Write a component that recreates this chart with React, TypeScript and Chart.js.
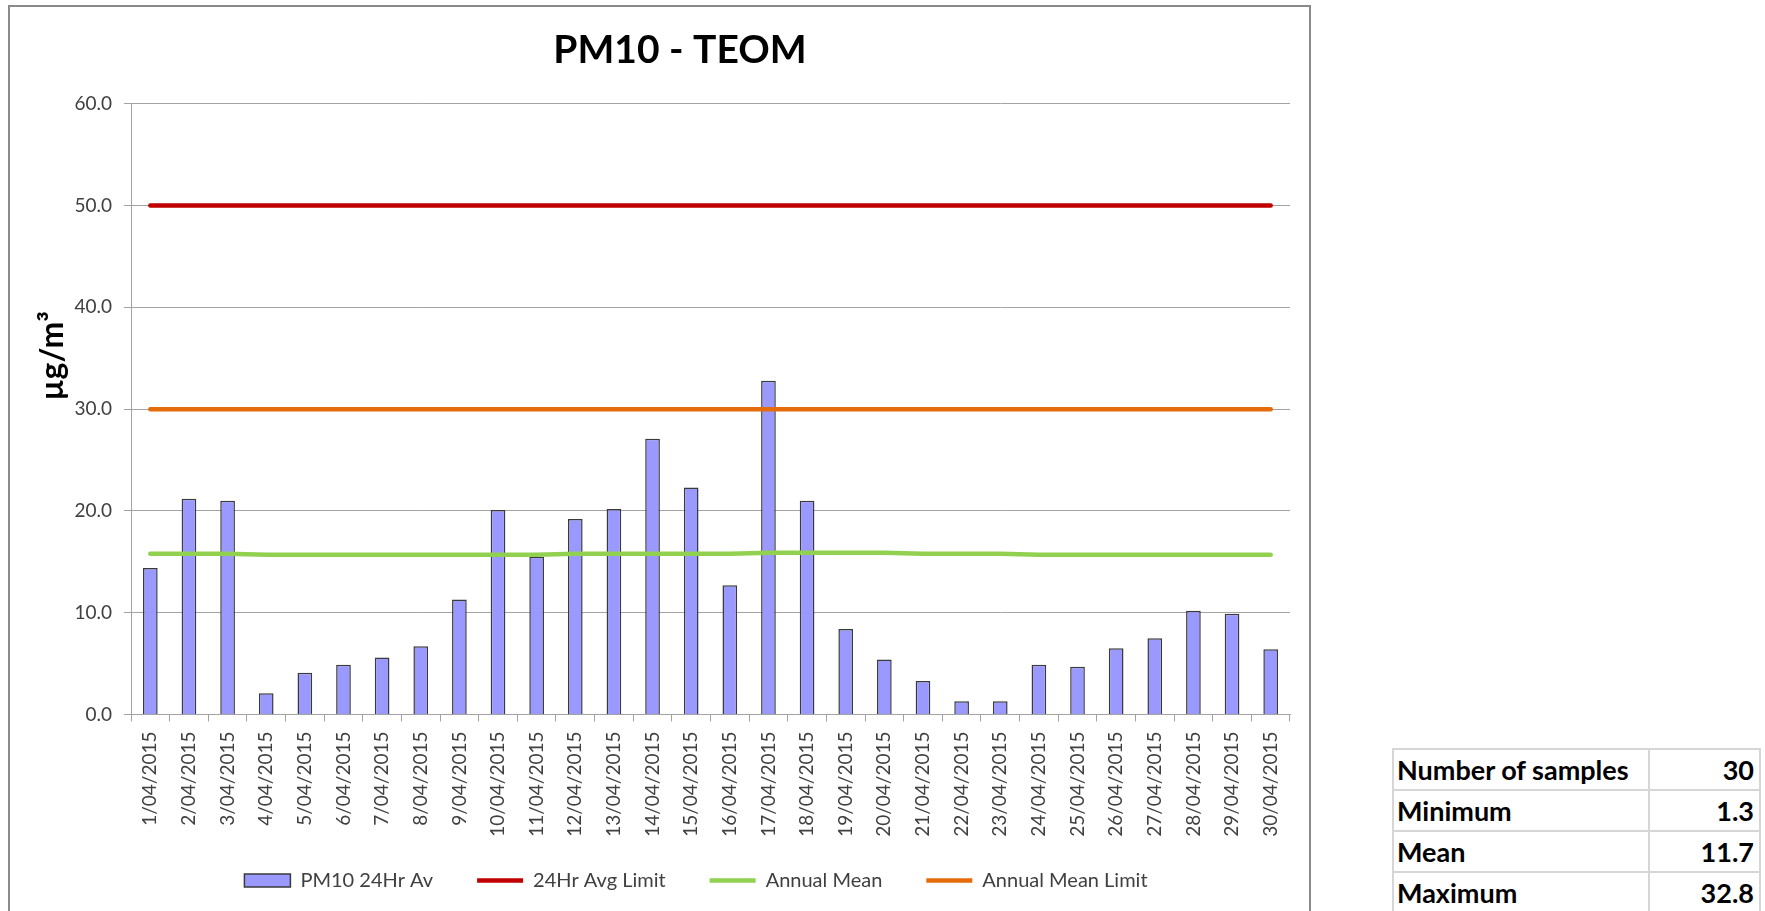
import React, { useEffect, useRef } from 'react';
import { Chart, registerables } from 'chart.js';

Chart.register(...registerables);

const FONT = 'Lato, "Open Sans", "DejaVu Sans", sans-serif';

const CHART_TITLE = 'PM10 - TEOM';
const Y_TITLE = 'µg/m³';

const DATES = [
  '1/04/2015', '2/04/2015', '3/04/2015', '4/04/2015', '5/04/2015', '6/04/2015',
  '7/04/2015', '8/04/2015', '9/04/2015', '10/04/2015', '11/04/2015', '12/04/2015',
  '13/04/2015', '14/04/2015', '15/04/2015', '16/04/2015', '17/04/2015', '18/04/2015',
  '19/04/2015', '20/04/2015', '21/04/2015', '22/04/2015', '23/04/2015', '24/04/2015',
  '25/04/2015', '26/04/2015', '27/04/2015', '28/04/2015', '29/04/2015', '30/04/2015',
];

const SERIES_NAMES = ['PM10 24Hr Av', '24Hr Avg Limit', 'Annual Mean', 'Annual Mean Limit'];

const PM10_24HR_AV = [
  14.4, 21.2, 21.0, 2.1, 4.1, 4.9, 5.6, 6.7, 11.3, 20.1,
  15.5, 19.2, 20.2, 27.1, 22.3, 12.7, 32.8, 21.0, 8.4, 5.4,
  3.3, 1.3, 1.3, 4.9, 4.7, 6.5, 7.5, 10.2, 9.9, 6.4,
];

const LIMIT_24HR_AVG = [
  50, 50, 50, 50, 50, 50, 50, 50, 50, 50,
  50, 50, 50, 50, 50, 50, 50, 50, 50, 50,
  50, 50, 50, 50, 50, 50, 50, 50, 50, 50,
];

const ANNUAL_MEAN = [
  15.8, 15.8, 15.8, 15.7, 15.7, 15.7, 15.7, 15.7, 15.7, 15.7,
  15.7, 15.8, 15.8, 15.8, 15.8, 15.8, 15.9, 15.9, 15.9, 15.9,
  15.8, 15.8, 15.8, 15.7, 15.7, 15.7, 15.7, 15.7, 15.7, 15.7,
];

const ANNUAL_MEAN_LIMIT = [
  30, 30, 30, 30, 30, 30, 30, 30, 30, 30,
  30, 30, 30, 30, 30, 30, 30, 30, 30, 30,
  30, 30, 30, 30, 30, 30, 30, 30, 30, 30,
];

const Y_MIN = 0;
const Y_MAX = 60;
const Y_STEP = 10;

const STAT_LABELS = ['Number of samples', 'Minimum', 'Mean', 'Maximum'];
const STAT_VALUES = ['30', '1.3', '11.7', '32.8'];

const GRID = '#a3a3a3';
const TEXT = '#404040';

const yTitlePlugin = {
  id: 'yTitleCustom',
  afterDraw(chart: any) {
    const { ctx, chartArea } = chart;
    ctx.save();
    ctx.translate(chartArea.left - 68, chartArea.top + 252);
    ctx.rotate(-Math.PI / 2);
    ctx.font = `bold 32px ${FONT}`;
    ctx.fillStyle = '#000';
    ctx.textAlign = 'center';
    ctx.textBaseline = 'alphabetic';
    ctx.fillText(Y_TITLE, 0, 0);
    ctx.restore();
  },
};

const legendShiftPlugin = {
  id: 'legendShift',
  afterLayout(chart: any) {
    const lg = chart.legend;
    if (!lg) return;
    lg.top -= 13;
    lg.bottom = chart.height;
    lg.left += 16;
    lg.right += 16;
  },
};

export default function App() {
  const ref = useRef<HTMLCanvasElement>(null);

  useEffect(() => {
    if (!ref.current) return;
    const chart = new Chart(ref.current, {
      type: 'bar',
      data: {
        labels: DATES,
        datasets: [
          {
            type: 'bar',
            label: SERIES_NAMES[0],
            data: PM10_24HR_AV,
            backgroundColor: '#9999FF',
            borderColor: '#3a3a3a',
            borderWidth: 1.5,
            barPercentage: 0.38,
            categoryPercentage: 1,
            order: 1,
          },
          {
            type: 'line',
            label: SERIES_NAMES[1],
            data: LIMIT_24HR_AVG,
            borderColor: '#C00000',
            backgroundColor: '#C00000',
            borderWidth: 4.5,
            pointRadius: 0,
            borderCapStyle: 'round',
            tension: 0,
            order: 0,
          },
          {
            type: 'line',
            label: SERIES_NAMES[2],
            data: ANNUAL_MEAN,
            borderColor: '#92D050',
            backgroundColor: '#92D050',
            borderWidth: 4.5,
            pointRadius: 0,
            borderCapStyle: 'round',
            tension: 0,
            order: 0,
          },
          {
            type: 'line',
            label: SERIES_NAMES[3],
            data: ANNUAL_MEAN_LIMIT,
            borderColor: '#E46C0A',
            backgroundColor: '#E46C0A',
            borderWidth: 4.5,
            pointRadius: 0,
            borderCapStyle: 'round',
            tension: 0,
            order: 0,
          },
        ],
      },
      options: {
        responsive: false,
        maintainAspectRatio: false,
        animation: false,
        layout: { padding: { left: 60, right: 19, top: 0, bottom: 11.5 } },
        plugins: {
          title: {
            display: true,
            text: CHART_TITLE,
            color: '#000',
            font: { family: FONT, size: 39, weight: 'bold' },
            padding: { top: 20, bottom: 30 },
          },
          legend: {
            position: 'bottom',
            maxHeight: 60,
            labels: {
              font: { family: FONT, size: 20 },
              color: TEXT,
              usePointStyle: true,
              pointStyleWidth: 46,
              boxWidth: 46,
              boxHeight: 13,
              padding: 44,
              sort: (a: any, b: any) => a.datasetIndex - b.datasetIndex,
              generateLabels: (c: any) => {
                const items = (Chart.defaults.plugins.legend.labels as any).generateLabels(c);
                return items.map((it: any) => ({
                  ...it,
                  pointStyle: it.datasetIndex === 0 ? 'rect' : 'line',
                }));
              },
            },
          },
          tooltip: { enabled: false },
        },
        scales: {
          x: {
            grid: { drawOnChartArea: false, drawTicks: true, tickLength: 7, color: GRID, offset: true },
            border: { color: GRID, width: 1 },
            ticks: {
              autoSkip: false,
              maxRotation: 90,
              minRotation: 90,
              padding: 10,
              color: TEXT,
              font: { family: FONT, size: 19 },
            },
            afterFit: (s: any) => {
              s.height = 125;
            },
          },
          y: {
            min: Y_MIN,
            max: Y_MAX,
            ticks: {
              stepSize: Y_STEP,
              padding: 12,
              color: TEXT,
              font: { family: FONT, size: 19 },
              callback: (v: any) => Number(v).toFixed(1),
            },
            grid: { color: GRID, tickLength: 7 },
            border: { color: GRID, width: 1 },
            afterFit: (s: any) => {
              s.width = 61;
            },
          },
        },
      } as any,
      plugins: [yTitlePlugin, legendShiftPlugin],
    });
    return () => chart.destroy();
  }, []);

  const cellBase: React.CSSProperties = {
    border: '2px solid #d6d6d6',
    padding: 0,
    height: 39,
    whiteSpace: 'nowrap',
    overflow: 'hidden',
  };

  return (
    <div
      style={{
        position: 'absolute',
        left: 0,
        top: 0,
        width: 1765,
        height: 911,
        overflow: 'hidden',
        background: '#fff',
      }}
    >
      <div
        style={{
          position: 'absolute',
          left: 8,
          top: 5,
          width: 1299,
          height: 910,
          border: '2px solid #8a8a8a',
        }}
      >
        <canvas ref={ref} width={1299} height={904} style={{ display: 'block', width: 1299, height: 904 }} />
      </div>
      <table
        style={{
          position: 'absolute',
          left: 1392,
          top: 748,
          width: 367,
          borderCollapse: 'collapse',
          tableLayout: 'fixed',
          fontFamily: FONT,
          fontWeight: 'bold',
          fontSize: 27,
          color: '#000',
        }}
      >
        <colgroup>
          <col style={{ width: 256 }} />
          <col style={{ width: 111 }} />
        </colgroup>
        <tbody>
          {STAT_LABELS.map((label, i) => (
            <tr key={label}>
              <td style={{ ...cellBase, textAlign: 'left', paddingLeft: 3 }}>{label}</td>
              <td style={{ ...cellBase, textAlign: 'right', paddingRight: 5 }}>{STAT_VALUES[i]}</td>
            </tr>
          ))}
        </tbody>
      </table>
    </div>
  );
}
